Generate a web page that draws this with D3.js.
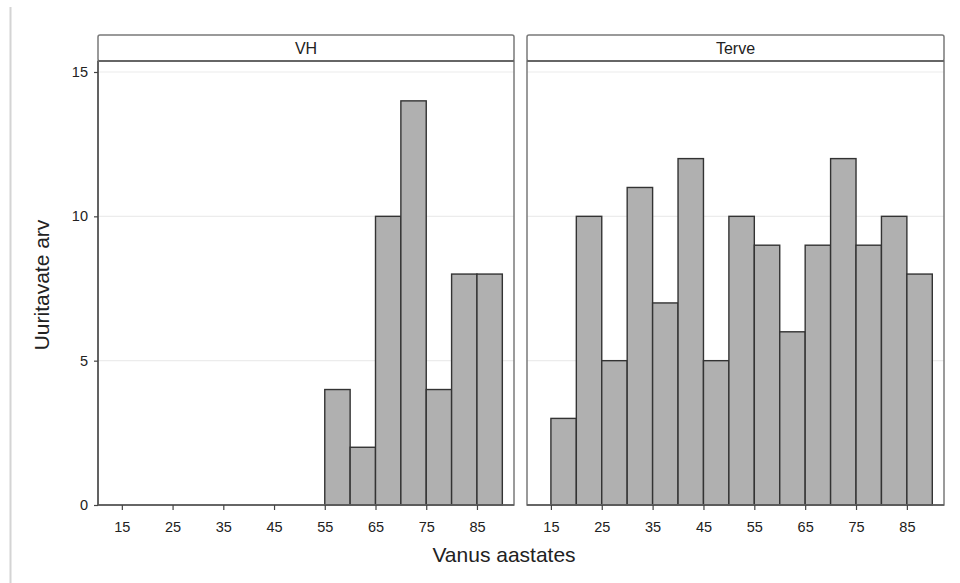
<!DOCTYPE html>
<meta charset="utf-8">
<head>
    <script src="https://d3js.org/d3.v7.min.js"></script>
    <style>
        body { margin: 0; background: #fff; }
        text { font-family: "Liberation Sans", Arial, sans-serif; fill: #222; }
    </style>
</head>
<body>
<script type="text/javascript">

    // histogram bins: start age of each 5-year bin
    var vhBins = [55, 60, 65, 70, 75, 80, 85];
    var vhCounts = [4, 2, 10, 14, 4, 8, 8];

    var terveBins = [15, 20, 25, 30, 35, 40, 45, 50, 55, 60, 65, 70, 75, 80, 85];
    var terveCounts = [3, 10, 5, 11, 7, 12, 5, 10, 9, 6, 9, 12, 9, 10, 8];

    var panelNames = ["VH", "Terve"];
    var xTicks = [15, 25, 35, 45, 55, 65, 75, 85];
    var yTicks = [0, 5, 10, 15];
    var binWidth = 5;

    var width = 960, height = 583;
    var plotTop = 61, plotBottom = 505, stripTop = 35;
    var panels = [
        {name: panelNames[0], x0: 98, x1: 514, bins: vhBins, counts: vhCounts},
        {name: panelNames[1], x0: 527, x1: 944, bins: terveBins, counts: terveCounts}
    ];

    var svg = d3.select("body")
        .append("svg")
        .attr("width", width)
        .attr("height", height);

    // page border on the left
    svg.append("line")
        .attr("x1", 10.5).attr("x2", 10.5)
        .attr("y1", 7).attr("y2", height)
        .attr("stroke", "#d4d4d4").attr("stroke-width", 2);

    var y = d3.scaleLinear().domain([0, 15]).range([plotBottom, 72]);

    panels.forEach(function (p, pi) {
        var x = d3.scaleLinear().domain([10.3, 92.3]).range([p.x0, p.x1]);
        var g = svg.append("g");

        // grid lines
        g.selectAll(".grid")
            .data(yTicks.slice(1))
            .enter()
            .append("line")
            .attr("x1", p.x0).attr("x2", p.x1)
            .attr("y1", function (d) { return y(d); })
            .attr("y2", function (d) { return y(d); })
            .attr("stroke", "#ececec").attr("stroke-width", 1.2);

        // bars
        g.selectAll(".bar")
            .data(p.bins)
            .enter()
            .append("rect")
            .attr("x", function (d) { return x(d); })
            .attr("width", function (d) { return x(d + binWidth) - x(d); })
            .attr("y", function (d, i) { return y(p.counts[i]); })
            .attr("height", function (d, i) { return y(0) - y(p.counts[i]); })
            .attr("fill", "#b0b0b0")
            .attr("stroke", "#333")
            .attr("stroke-width", 1.4);

        // panel frame
        g.append("rect")
            .attr("x", p.x0).attr("y", plotTop)
            .attr("width", p.x1 - p.x0).attr("height", plotBottom - plotTop)
            .attr("fill", "none")
            .attr("stroke", "#7a7a7a").attr("stroke-width", 1.5);
        g.append("line")
            .attr("x1", p.x0).attr("x2", p.x1)
            .attr("y1", plotBottom).attr("y2", plotBottom)
            .attr("stroke", "#555").attr("stroke-width", 1.6);
        if (pi === 0) {
            g.append("line")
                .attr("x1", p.x0).attr("x2", p.x0)
                .attr("y1", plotTop).attr("y2", plotBottom)
                .attr("stroke", "#555").attr("stroke-width", 1.6);
        }

        // strip
        g.append("rect")
            .attr("x", p.x0).attr("y", stripTop)
            .attr("width", p.x1 - p.x0).attr("height", plotTop - stripTop)
            .attr("rx", 2)
            .attr("fill", "#fff")
            .attr("stroke", "#7a7a7a").attr("stroke-width", 1.5);
        g.append("line")
            .attr("x1", p.x0).attr("x2", p.x1)
            .attr("y1", plotTop).attr("y2", plotTop)
            .attr("stroke", "#666").attr("stroke-width", 2.2);
        g.append("text")
            .attr("x", (p.x0 + p.x1) / 2)
            .attr("y", 54)
            .attr("text-anchor", "middle")
            .attr("font-size", "16px")
            .text(p.name);

        // x axis
        var xAxis = d3.axisBottom(x).tickValues(xTicks).tickSize(5).tickPadding(12);
        var ax = g.append("g")
            .attr("transform", "translate(0," + plotBottom + ")")
            .call(xAxis);
        ax.select(".domain").remove();
        ax.selectAll("line").attr("stroke", "#444").attr("stroke-width", 1.2);
        ax.selectAll("text").attr("font-size", "14.5px").attr("fill", "#222");

        if (pi === 0) {
            var yAxis = d3.axisLeft(y).tickValues(yTicks).tickSize(4).tickPadding(6);
            var ay = g.append("g")
                .attr("transform", "translate(" + p.x0 + ",0)")
                .call(yAxis);
            ay.select(".domain").remove();
            ay.selectAll("line").attr("stroke", "#444").attr("stroke-width", 1.2);
            ay.selectAll("text").attr("font-size", "14.5px").attr("fill", "#222");
        }
    });

    // axis titles
    svg.append("text")
        .attr("transform", "translate(49,285) rotate(-90)")
        .attr("text-anchor", "middle")
        .attr("font-size", "21px")
        .text("Uuritavate arv");

    svg.append("text")
        .attr("x", 504)
        .attr("y", 562)
        .attr("text-anchor", "middle")
        .attr("font-size", "21px")
        .text("Vanus aastates");

</script>
</body>
</html>
